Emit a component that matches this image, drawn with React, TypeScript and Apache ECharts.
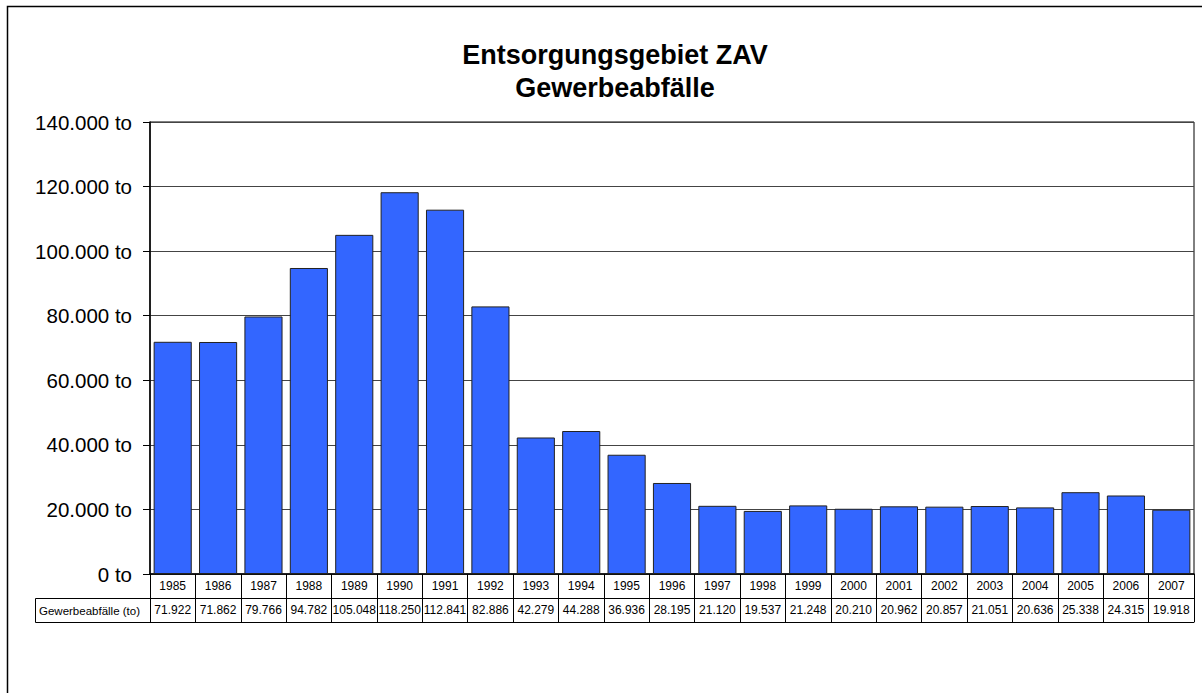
import React, { useEffect, useRef } from "react";
import * as echarts from "echarts";

const years = [
  "1985", "1986", "1987", "1988", "1989", "1990", "1991", "1992", "1993", "1994", "1995", "1996",
  "1997", "1998", "1999", "2000", "2001", "2002", "2003", "2004", "2005", "2006", "2007",
];
const gewerbeabfaelle = [
  71922, 71862, 79766, 94782, 105048, 118250, 112841, 82886, 42279, 44288, 36936, 28195,
  21120, 19537, 21248, 20210, 20962, 20857, 21051, 20636, 25338, 24315, 19918,
];
const seriesName = "Gewerbeabfälle (to)";
const titleLines = ["Entsorgungsgebiet ZAV", "Gewerbeabfälle"];

const FONT = "Arial, 'Liberation Sans', sans-serif";

function fmt(v: number): string {
  const s = Math.round(v).toString();
  return s.replace(/\B(?=(\d{3})+(?!\d))/g, ".");
}

export default function App() {
  const ref = useRef<HTMLDivElement>(null);
  useEffect(() => {
    document.body.style.margin = "0";
    document.body.style.overflow = "hidden";
    const chart = echarts.init(ref.current!, null, { renderer: "svg" });
    const valueLabels = gewerbeabfaelle.map(fmt);
    chart.setOption({
      animation: false,
      backgroundColor: "#ffffff",
      title: {
        text: titleLines.join("\n"),
        left: 610,
        top: 33,
        textAlign: "center",
        textStyle: {
          fontFamily: FONT,
          fontWeight: "bold",
          fontSize: 27,
          lineHeight: 33,
          color: "#000",
        },
      },
      grid: {
        left: 150,
        top: 122,
        right: 8,
        height: 452,
        show: true,
        borderColor: "#000",
        borderWidth: 1,
        backgroundColor: "transparent",
      },
      xAxis: [
        {
          type: "category",
          data: years,
          position: "bottom",
          axisLine: { show: true, lineStyle: { color: "#000", width: 1.5 } },
          axisTick: { show: true, length: 48, lineStyle: { color: "#000", width: 1 } },
          axisLabel: {
            margin: 12,
            verticalAlign: "middle",
            fontFamily: FONT,
            fontSize: 12,
            color: "#000",
            interval: 0,
          },
        },
        {
          type: "category",
          data: valueLabels,
          position: "bottom",
          offset: 24,
          axisLine: { show: true, lineStyle: { color: "#000", width: 1 } },
          axisTick: { show: false },
          axisLabel: {
            margin: 12,
            verticalAlign: "middle",
            fontFamily: FONT,
            fontSize: 12,
            color: "#000",
            interval: 0,
          },
        },
        {
          type: "category",
          data: years,
          position: "bottom",
          offset: 48,
          axisLine: { show: true, lineStyle: { color: "#000", width: 1 } },
          axisTick: { show: false },
          axisLabel: { show: false },
        },
      ],
      yAxis: {
        type: "value",
        min: 0,
        max: 140000,
        interval: 20000,
        axisLine: { show: true, lineStyle: { color: "#000", width: 1.5 } },
        axisTick: { show: true, length: 7, lineStyle: { color: "#000" } },
        axisLabel: {
          margin: 18,
          fontFamily: FONT,
          fontSize: 20.5,
          color: "#000",
          formatter: (v: number) => fmt(v) + " to",
        },
        splitLine: { show: true, lineStyle: { color: "#444", width: 1 } },
      },
      series: [
        {
          name: seriesName,
          type: "bar",
          data: gewerbeabfaelle,
          xAxisIndex: 0,
          barCategoryGap: "16%",
          itemStyle: { color: "#3366FF", borderColor: "#222", borderWidth: 1 },
        },
      ],
      graphic: [
        {
          type: "polyline",
          shape: { points: [[7.5, 700], [7.5, 6.5], [1202, 6.5]] },
          style: { fill: "none", stroke: "#000", lineWidth: 1.5 },
          silent: true,
        },
        {
          type: "polyline",
          shape: { points: [[150, 598.5], [35.5, 598.5], [35.5, 622.5], [150, 622.5]] },
          style: { fill: "none", stroke: "#000", lineWidth: 1 },
          silent: true,
        },
        {
          type: "text",
          x: 39,
          y: 610.5,
          style: {
            text: seriesName,
            fontFamily: FONT,
            fontSize: 11.5,
            fill: "#000",
            verticalAlign: "middle",
            align: "left",
          },
          silent: true,
        },
      ],
    });
    return () => chart.dispose();
  }, []);
  return <div ref={ref} style={{ width: 1202, height: 693 }} />;
}
